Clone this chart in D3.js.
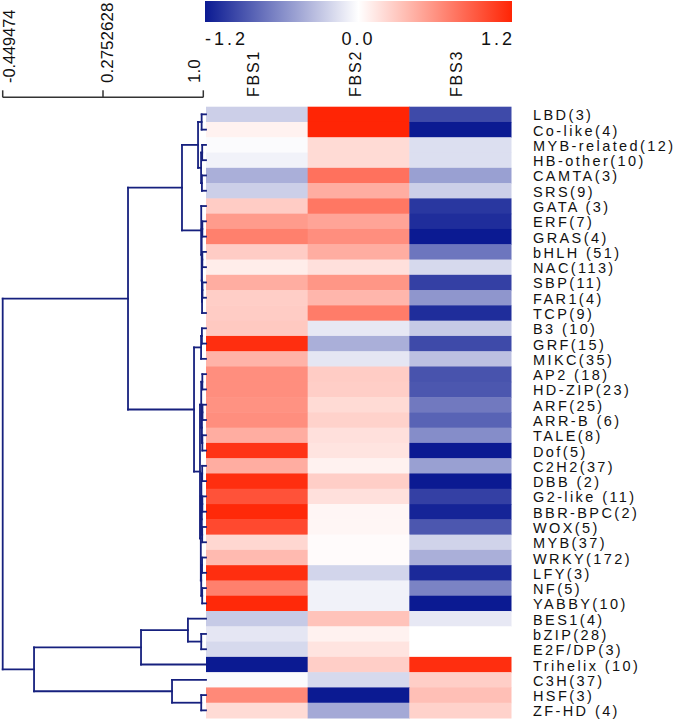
<!DOCTYPE html>
<html>
<head>
<meta charset="utf-8">
<script src="https://cdn.jsdelivr.net/npm/d3@7"></script>
<style>
  html, body { margin: 0; padding: 0; background: #fff; }
  svg { display: block; }
  text { font-family: "Liberation Sans", Arial, sans-serif; fill: #111; }
</style>
</head>
<body>
<div id="chart"></div>
<script>
// ---------------- DATA ----------------
const rowLabels = [
  "LBD(3)", "Co-like(4)", "MYB-related(12)", "HB-other(10)", "CAMTA(3)", "SRS(9)",
  "GATA (3)", "ERF(7)", "GRAS(4)", "bHLH (51)", "NAC(113)", "SBP(11)", "FAR1(4)", "TCP(9)",
  "B3 (10)", "GRF(15)", "MIKC(35)", "AP2 (18)", "HD-ZIP(23)", "ARF(25)", "ARR-B (6)", "TALE(8)",
  "Dof(5)", "C2H2(37)", "DBB (2)", "G2-like (11)", "BBR-BPC(2)", "WOX(5)", "MYB(37)", "WRKY(172)",
  "LFY(3)", "NF(5)", "YABBY(10)", "BES1(4)", "bZIP(28)", "E2F/DP(3)", "Trihelix (10)", "C3H(37)",
  "HSF(3)", "ZF-HD (4)"
];
const colLabels = ["FBS1", "FBS2", "FBS3"];

const fbs1 = [-0.25, 0.07, -0.02, -0.07, -0.42, -0.25, 0.28, 0.55, 0.70, 0.28, 0.10, 0.45, 0.27, 0.28,
  0.30, 1.15, 0.42, 0.62, 0.62, 0.60, 0.62, 0.45, 1.12, 0.45, 1.15, 0.95, 1.18, 1.00, 0.22, 0.38,
  1.15, 0.70, 1.18, -0.28, -0.13, -0.20, -1.20, -0.02, 0.65, 0.20];
const fbs2 = [1.25, 1.25, 0.20, 0.20, 0.78, 0.45, 0.75, 0.50, 0.62, 0.45, 0.17, 0.58, 0.40, 0.72,
  -0.12, -0.42, -0.13, 0.28, 0.27, 0.20, 0.25, 0.17, 0.15, 0.07, 0.27, 0.17, 0.05, 0.05, 0.02, 0.02,
  -0.22, -0.07, -0.07, 0.33, 0.07, 0.15, 0.27, -0.20, -1.20, -0.45];
const fbs3 = [-0.95, -1.20, -0.17, -0.17, -0.50, -0.25, -1.05, -1.10, -1.20, -0.72, -0.20, -1.00, -0.55, -1.10,
  -0.28, -0.95, -0.33, -0.90, -0.88, -0.70, -0.82, -0.60, -1.20, -0.50, -1.20, -1.00, -1.15, -0.88, -0.23, -0.42,
  -1.12, -0.65, -1.20, -0.12, 0.00, 0.00, 1.15, 0.27, 0.35, 0.25];

const colorTicks = [-1.2, 0.0, 1.2];
const colorTickLabels = ["-1.2", "0.0", "1.2"];

const treeTicks = [-0.449474, 0.2752630, 1.0];
const treeTickLabels = ["-0.449474", "0.2752628", "1.0"];

// dendrogram: [height (correlation), child, child]; leaves are row labels
const dendro = [-0.449474,
  [0.456,
    [0.846,
      [0.962,
        [0.988, "LBD(3)", "Co-like(4)"],
        [0.984, [0.992, "MYB-related(12)", "HB-other(10)"], [0.990, "CAMTA(3)", "SRS(9)"]]
      ],
      [0.985, "GATA (3)",
        [0.988, [0.993, "ERF(7)", "GRAS(4)"],
          [0.990, [0.993, "bHLH (51)", "NAC(113)"], [0.991, [0.994, "SBP(11)", "FAR1(4)"], "TCP(9)"]]]]
    ],
    [0.933,
      [0.984, [0.990, "B3 (10)", "GRF(15)"], "MIKC(35)"],
      [0.976,
        [0.985, [0.993, "AP2 (18)", "HD-ZIP(23)"],
          [0.990, [0.994, "ARF(25)", "ARR-B (6)"], [0.993, "TALE(8)", "Dof(5)"]]],
        [0.982,
          [0.986, [0.992, "C2H2(37)", "DBB (2)"],
            [0.989, [0.993, "G2-like (11)", "BBR-BPC(2)"], [0.992, "WOX(5)", "MYB(37)"]]],
          [0.985, [0.991, "WRKY(172)", "LFY(3)"], [0.992, "NF(5)", "YABBY(10)"]]
        ]
      ]
    ]
  ],
  [-0.223,
    [0.55,
      [0.889, "BES1(4)", [0.985, "bZIP(28)", "E2F/DP(3)"]],
      "Trihelix (10)"
    ],
    [0.774, "C3H(37)", [0.985, "HSF(3)", "ZF-HD (4)"]]
  ]
];

// ---------------- CHART ----------------
const W = 690, H = 723;
const svg = d3.select("#chart").append("svg").attr("width", W).attr("height", H);

const series = [fbs1, fbs2, fbs3];
const cells = [];
rowLabels.forEach((r, i) => colLabels.forEach((c, j) => cells.push({ row: r, col: c, v: series[j][i] })));

const heatL = 206, heatR = 511, heatT = 106.7, heatB = 718;
const y = d3.scaleBand().domain(rowLabels).range([heatT, heatB]).padding(0);
const x = d3.scaleBand().domain(colLabels).range([heatL, heatR]).padding(0);

const blue = "#0b1a92", red = "#ff2505";
const color = d3.scaleLinear().domain([-1.2, 0, 1.2]).range([blue, "#ffffff", red])
  .interpolate(d3.interpolateRgb).clamp(true);

// heat cells
svg.append("g").selectAll("rect").data(cells).join("rect")
  .attr("x", d => x(d.col))
  .attr("y", d => y(d.row))
  .attr("width", x.bandwidth() + 0.5)
  .attr("height", y.bandwidth() + 0.5)
  .attr("fill", d => color(d.v));

// row labels
svg.append("g").selectAll("text").data(rowLabels).join("text")
  .attr("x", 533)
  .attr("y", d => y(d) + y.bandwidth() / 2 + 6)
  .attr("font-size", 14.5)
  .attr("letter-spacing", "2.4px")
  .text(d => d);

// column labels (rotated)
svg.append("g").selectAll("text").data(colLabels).join("text")
  .attr("transform", d => `translate(${x(d) + x.bandwidth() / 2 + 2},97) rotate(-90)`)
  .attr("font-size", 16)
  .attr("letter-spacing", "1.8px")
  .text(d => d);

// colour bar
const cbL = 205, cbR = 512;
const cbScale = d3.scaleLinear().domain([-1.2, 1.2]).range([cbL, cbR]);
const defs = svg.append("defs");
const grad = defs.append("linearGradient").attr("id", "cbgrad").attr("x1", "0%").attr("x2", "100%");
d3.range(0, 1.0001, 0.05).forEach(t => {
  grad.append("stop").attr("offset", (t * 100) + "%").attr("stop-color", color(-1.2 + 2.4 * t));
});
svg.append("rect").attr("x", cbL).attr("y", 1).attr("width", cbR - cbL).attr("height", 21)
  .attr("fill", "url(#cbgrad)");
svg.append("g").selectAll("text").data(colorTicks).join("text")
  .attr("x", (d, i) => cbScale(d) + (i === 2 ? 3 : 0))
  .attr("y", 45)
  .attr("text-anchor", (d, i) => ["start", "middle", "end"][i])
  .attr("font-size", 18)
  .attr("letter-spacing", "3px")
  .text((d, i) => colorTickLabels[i]);

// dendrogram
const dx = d3.scaleLinear().domain([1.0, -0.449474]).range([203.3, 2.7]);
const root = d3.hierarchy(dendro, d => Array.isArray(d) ? d.slice(1) : null);
root.eachAfter(n => {
  if (n.children) {
    n.h = n.data[0];
    n.yy = d3.mean(n.children, c => c.yy);
  } else {
    n.h = 1.0;
    n.yy = y(n.data) + y.bandwidth() / 2;
  }
});
const dendColor = "#16207e";
const segs = [];
root.each(n => {
  if (!n.children) return;
  const xn = dx(n.h);
  const ys = n.children.map(c => c.yy);
  segs.push([xn, d3.min(ys), xn, d3.max(ys)]);
  n.children.forEach(c => {
    const xc = c.children ? dx(c.h) : heatL;
    segs.push([xn, c.yy, xc, c.yy]);
  });
});
svg.append("g").selectAll("line").data(segs).join("line")
  .attr("x1", d => d[0]).attr("y1", d => d[1]).attr("x2", d => d[2]).attr("y2", d => d[3])
  .attr("stroke", dendColor).attr("stroke-width", 1.8).attr("stroke-linecap", "square");

// dendrogram axis
const axY = 97.3;
const axG = svg.append("g");
axG.append("line").attr("x1", dx(-0.449474)).attr("x2", dx(1.0)).attr("y1", axY).attr("y2", axY)
  .attr("stroke", "#333").attr("stroke-width", 1.5);
axG.selectAll("line.tick").data(treeTicks).join("line").attr("class", "tick")
  .attr("x1", d => dx(d)).attr("x2", d => dx(d)).attr("y1", axY).attr("y2", axY - 7)
  .attr("stroke", "#333").attr("stroke-width", 1.5);
axG.selectAll("text").data(treeTicks).join("text")
  .attr("transform", (d, i) => `translate(${dx(d) + [12.5, 9.5, -3.5][i]},83) rotate(-90)`)
  .attr("font-size", (d, i) => i === 0 ? 16.3 : 17)
  .text((d, i) => treeTickLabels[i]);
</script>
</body>
</html>
